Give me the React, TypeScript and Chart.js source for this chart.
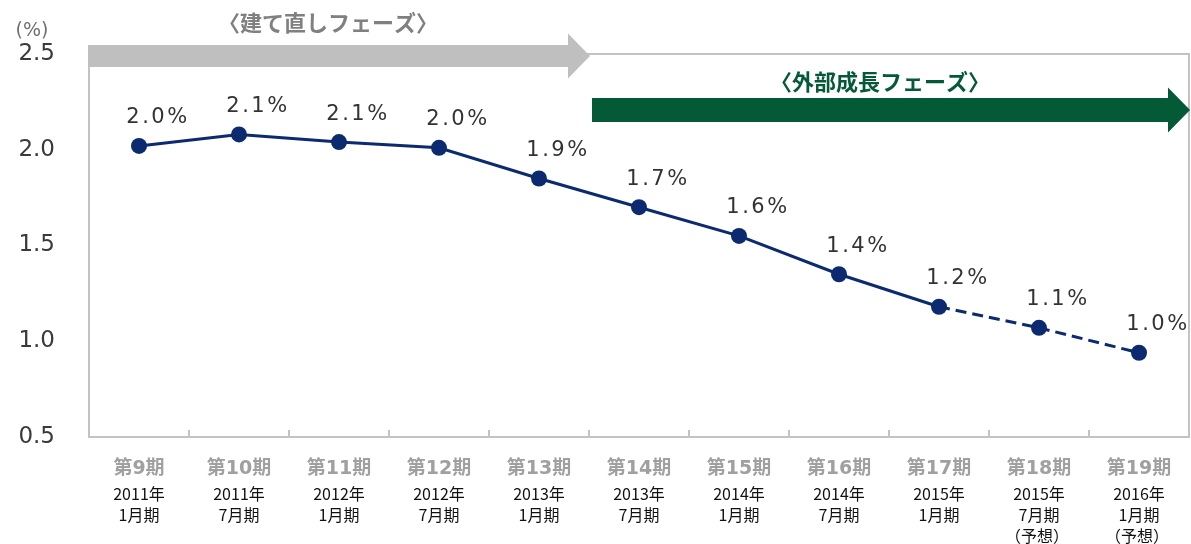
import React, { useEffect, useRef } from 'react';
import { Chart, registerables } from 'chart.js';

Chart.register(...registerables);

const periods = ['第9期', '第10期', '第11期', '第12期', '第13期', '第14期', '第15期', '第16期', '第17期', '第18期', '第19期'];
const years = ['2011年', '2011年', '2012年', '2012年', '2013年', '2013年', '2014年', '2014年', '2015年', '2015年', '2016年'];
const months = ['1月期', '7月期', '1月期', '7月期', '1月期', '7月期', '1月期', '7月期', '1月期', '7月期', '1月期'];
const notes = ['', '', '', '', '', '', '', '', '', '（予想）', '（予想）'];
const ratioValues = [2.02, 2.08, 2.04, 2.01, 1.85, 1.70, 1.55, 1.35, 1.18, 1.07, 0.94];
const ratioLabels = ['2.0%', '2.1%', '2.1%', '2.0%', '1.9%', '1.7%', '1.6%', '1.4%', '1.2%', '1.1%', '1.0%'];
const lastActualIndex = 8;
const yTicks = [0.5, 1.0, 1.5, 2.0, 2.5];
const phaseLabels = ['〈建て直しフェーズ〉', '〈外部成長フェーズ〉'];
const phaseBoundaryIndex = 5; // second phase starts at this category
const unitLabel = '(%)';

const NAVY = '#0b2a6f';
const GREEN = '#045a36';
const GREY_ARROW = '#bfbfbf';

function drawArrow(ctx: CanvasRenderingContext2D, x0: number, x1: number, yc: number, bodyH: number, headH: number, headL: number, color: string) {
  ctx.fillStyle = color;
  ctx.beginPath();
  ctx.moveTo(x0, yc - bodyH / 2);
  ctx.lineTo(x1 - headL, yc - bodyH / 2);
  ctx.lineTo(x1 - headL, yc - headH / 2);
  ctx.lineTo(x1, yc);
  ctx.lineTo(x1 - headL, yc + headH / 2);
  ctx.lineTo(x1 - headL, yc + bodyH / 2);
  ctx.lineTo(x0, yc + bodyH / 2);
  ctx.closePath();
  ctx.fill();
}

const decor = {
  id: 'decor',
  beforeDatasetsDraw(chart: any) {
    const { ctx, chartArea: a, scales } = chart;
    const x = scales.x;
    ctx.save();
    ctx.strokeStyle = '#c3c3c3';
    ctx.lineWidth = 2;
    ctx.strokeRect(a.left, a.top, a.right - a.left, a.bottom - a.top);
    ctx.beginPath();
    for (let i = 1; i < periods.length; i++) {
      const bx = Math.round((x.getPixelForValue(i - 1) + x.getPixelForValue(i)) / 2);
      ctx.moveTo(bx, a.bottom);
      ctx.lineTo(bx, a.bottom - 7);
    }
    ctx.stroke();
    ctx.restore();
  },
  afterDatasetsDraw(chart: any) {
    const { ctx } = chart;
    const meta = chart.getDatasetMeta(0);
    ctx.save();
    ctx.font = '21px "DejaVu Sans"';
    (ctx as any).letterSpacing = '2.5px';
    ctx.fillStyle = '#333333';
    ctx.textAlign = 'center';
    ctx.textBaseline = 'middle';
    meta.data.forEach((pt: any, i: number) => {
      ctx.fillText(ratioLabels[i], pt.x + 19, pt.y - 28);
    });
    ctx.restore();
  },
  afterDraw(chart: any) {
    const { ctx, chartArea: a, scales } = chart;
    const x = scales.x;
    ctx.save();
    const boundary = (x.getPixelForValue(phaseBoundaryIndex - 1) + x.getPixelForValue(phaseBoundaryIndex)) / 2;
    // phase arrows
    drawArrow(ctx, a.left - 1, boundary + 1, 56, 22, 45, 22, GREY_ARROW);
    drawArrow(ctx, boundary + 3, a.right + 1, 110, 24, 45, 22, GREEN);
    // phase titles
    ctx.textAlign = 'center';
    ctx.textBaseline = 'middle';
    ctx.font = 'bold 22px "Noto Sans CJK JP"';
    ctx.fillStyle = '#808080';
    ctx.fillText(phaseLabels[0], (a.left + boundary) / 2 - 11, 23);
    ctx.fillStyle = GREEN;
    ctx.fillText(phaseLabels[1], (boundary + a.right) / 2 - 9, 82);
    // unit label
    ctx.font = '19px "DejaVu Sans"';
    ctx.fillStyle = '#707070';
    ctx.fillText(unitLabel, 32, 31);
    // x labels
    periods.forEach((p, i) => {
      const cx = x.getPixelForValue(i);
      ctx.font = 'bold 19px "DejaVu Sans", "Noto Sans CJK JP"';
      ctx.fillStyle = '#a0a0a0';
      ctx.fillText(p, cx, 469);
      ctx.font = '16px "Noto Sans CJK JP"';
      ctx.fillStyle = '#111111';
      ctx.fillText(years[i], cx, 494);
      ctx.fillText(months[i], cx, 515);
      if (notes[i]) ctx.fillText(notes[i], cx - 2, 536);
    });
    ctx.restore();
  },
};

export default function App() {
  const ref = useRef<HTMLCanvasElement | null>(null);
  useEffect(() => {
    if (!ref.current) return;
    const chart = new Chart(ref.current, {
      type: 'line',
      data: {
        labels: periods,
        datasets: [
          {
            data: ratioValues,
            borderColor: NAVY,
            backgroundColor: NAVY,
            borderWidth: 3,
            pointRadius: 8,
            pointBackgroundColor: NAVY,
            pointBorderWidth: 0,
            tension: 0,
            segment: {
              borderDash: (c: any) => (c.p0DataIndex >= lastActualIndex ? [11, 6] : undefined),
            },
          },
        ],
      },
      options: {
        animation: false,
        responsive: false,
        devicePixelRatio: 1,
        layout: { autoPadding: false, padding: { top: 54, right: 2, left: 0, bottom: 0 } },
        plugins: { legend: { display: false }, tooltip: { enabled: false }, title: { display: false } },
        scales: {
          x: {
            type: 'category',
            offset: true,
            grid: { display: false, drawTicks: false },
            border: { display: false },
            ticks: { display: false },
            afterFit: (s: any) => { s.height = 107; },
          },
          y: {
            min: 0.5,
            max: 2.5,
            grid: { display: false, drawTicks: false },
            border: { display: false },
            afterBuildTicks: (s: any) => { s.ticks = yTicks.map((v) => ({ value: v })); },
            ticks: {
              padding: 34,
              color: '#3a3a3a',
              font: { family: 'DejaVu Sans', size: 23 },
              callback: (v: any) => Number(v).toFixed(1),
            },
            afterFit: (s: any) => { s.width = 89; },
          },
        },
      },
      plugins: [decor],
    });
    return () => chart.destroy();
  }, []);
  return (
    <div style={{ position: 'absolute', left: 0, top: 0, width: 1191, height: 544, background: '#fff' }}>
      <canvas ref={ref} width={1191} height={544} style={{ display: 'block' }} />
    </div>
  );
}
